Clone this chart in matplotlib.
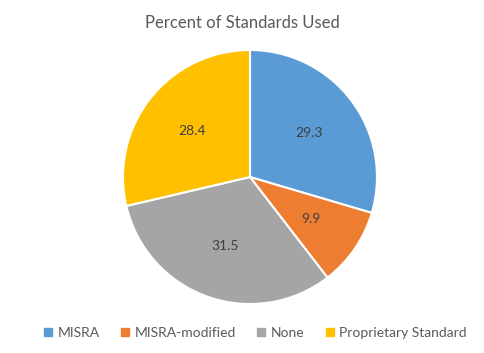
import matplotlib.pyplot as plt
from matplotlib.lines import Line2D

categories = ["MISRA", "MISRA-modified", "None", "Proprietary Standard"]
values = [29.3, 9.9, 31.5, 28.4]
colors = ["#5B9BD5", "#ED7D31", "#A5A5A5", "#FFC000"]

plt.rcParams['font.family'] = ['Lato', 'DejaVu Sans']

fig = plt.figure(figsize=(4.84, 3.53), dpi=100)
ax = fig.add_axes([0.2541, 0.1388, 0.5248, 0.7195])

wedges, texts = ax.pie(values, labels=[str(v) for v in values], colors=colors,
                       startangle=90, counterclock=False, labeldistance=0.58,
                       wedgeprops=dict(edgecolor="white", linewidth=1.5),
                       textprops=dict(fontsize=10, color="#404040"))
for t in texts:
    t.set_ha("center")
    t.set_va("center")
ax.set_xlim(-1.0, 1.0)
ax.set_ylim(-1.0, 1.0)
ax.set_aspect("equal")

fig.text(0.5, 0.935, "Percent of Standards Used", ha="center", va="center",
         fontsize=12, color="#595959")

handles = [Line2D([], [], marker="s", linestyle="", markersize=5.5,
                  markerfacecolor=c, markeredgecolor=c) for c in colors]
fig.legend(handles, categories, loc="center", bbox_to_anchor=(0.525, 0.057),
           ncol=4, frameon=False, fontsize=10, labelcolor="#595959",
           handletextpad=0.2, columnspacing=1.3, handlelength=1.0)

fig.savefig("out.png", dpi=100)
